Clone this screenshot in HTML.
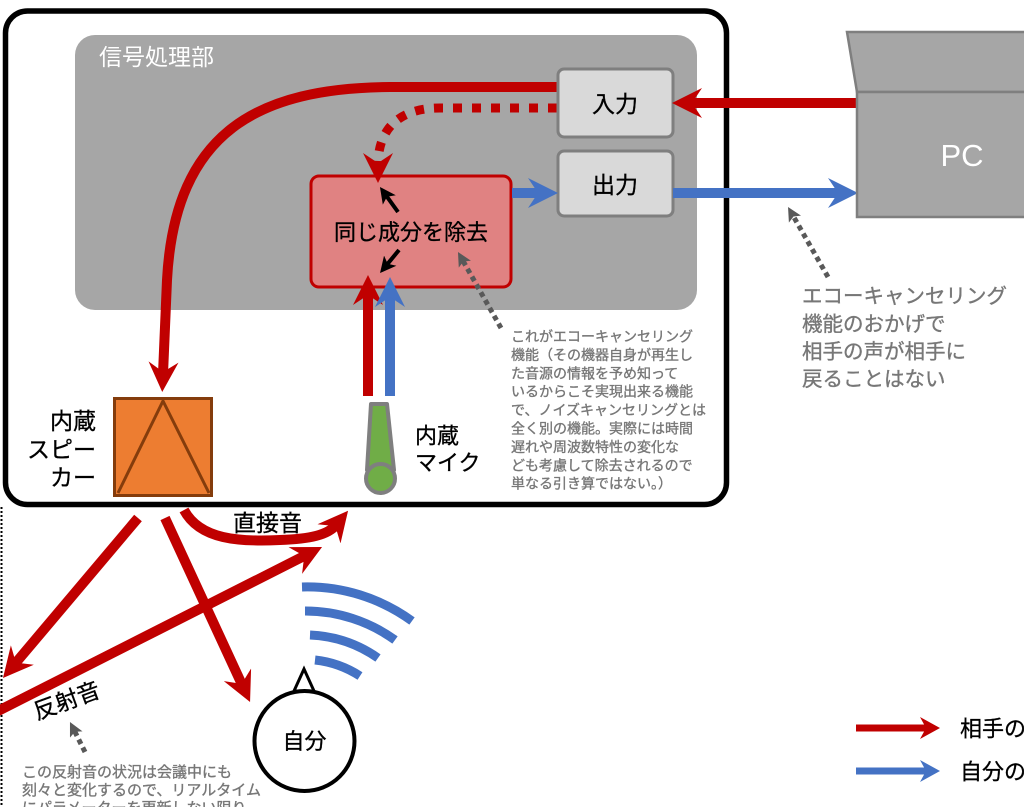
<!DOCTYPE html>
<html><head><meta charset="utf-8">
<style>
html,body{margin:0;padding:0;background:#fff;}
body{width:1024px;height:807px;overflow:hidden;}
svg{display:block;}
text{font-family:"Liberation Sans","Noto Sans CJK JP",sans-serif;}
.ann{fill:#777;stroke:#777;stroke-width:0.35px;}
.blk{stroke:#000;stroke-width:0.3px;}
</style></head><body>
<svg width="1024" height="807" viewBox="0 0 1024 807" xmlns="http://www.w3.org/2000/svg">
<defs>
<marker id="hr" viewBox="0 -15 30 30" refX="12" refY="0" markerWidth="30" markerHeight="30" markerUnits="userSpaceOnUse" orient="auto"><path d="M0,-15L30,0L0,15L10,0z" fill="#c00000"/></marker>
<marker id="hb" viewBox="0 -15 30 30" refX="12" refY="0" markerWidth="30" markerHeight="30" markerUnits="userSpaceOnUse" orient="auto"><path d="M0,-15L30,0L0,15L10,0z" fill="#4472c4"/></marker>
<marker id="hrs" viewBox="0 -11 20 22" refX="8" refY="0" markerWidth="20" markerHeight="22" markerUnits="userSpaceOnUse" orient="auto"><path d="M0,-11L20,0L0,11L6,0z" fill="#c00000"/></marker>
<marker id="hbs" viewBox="0 -11 20 22" refX="8" refY="0" markerWidth="20" markerHeight="22" markerUnits="userSpaceOnUse" orient="auto"><path d="M0,-11L20,0L0,11L6,0z" fill="#4472c4"/></marker>
<marker id="hk" viewBox="0 -8 16 16" refX="6" refY="0" markerWidth="16" markerHeight="16" markerUnits="userSpaceOnUse" orient="auto"><path d="M0,-8L16,0L0,8L4,0z" fill="#000"/></marker>
<marker id="hg" viewBox="0 -7 14 14" refX="5" refY="0" markerWidth="14" markerHeight="14" markerUnits="userSpaceOnUse" orient="auto"><path d="M0,-7L14,0L0,7L3,0z" fill="#595959"/></marker>
</defs>

<!-- left dotted line -->
<line x1="1.5" y1="507" x2="1.5" y2="807" stroke="#000" stroke-width="2" stroke-dasharray="2 2"/>

<!-- outer device box -->
<rect x="5.5" y="11" width="721" height="493.5" rx="22" fill="#fff" stroke="#000" stroke-width="5.5"/>

<!-- signal processing area -->
<rect x="75" y="35" width="622" height="275" rx="20" fill="#a6a6a6"/>
<text x="99" y="65" font-size="23" fill="#fff">信号処理部</text>

<!-- pink box -->
<rect x="311" y="176" width="200" height="111" rx="8" fill="#e08282" stroke="#c00000" stroke-width="3"/>

<!-- big red curve to speaker -->
<path d="M557,87 L390,87 C260,88 175,130 167,280 L163,374" fill="none" stroke="#c00000" stroke-width="10" marker-end="url(#hr)"/>
<!-- dotted red curve -->
<path d="M557,108 L440,108 C400,108 378,128 378,165" fill="none" stroke="#c00000" stroke-width="9" stroke-dasharray="9 10" marker-end="url(#hr)"/>

<!-- input / output boxes -->
<rect x="558" y="69" width="115" height="68" rx="6" fill="#d9d9d9" stroke="#7f7f7f" stroke-width="3"/>
<text class="blk" x="615" y="112" font-size="23" text-anchor="middle" fill="#000">入力</text>
<rect x="558" y="151" width="115" height="65" rx="6" fill="#d9d9d9" stroke="#7f7f7f" stroke-width="3"/>
<text class="blk" x="615" y="193" font-size="23" text-anchor="middle" fill="#000">出力</text>

<text class="blk" x="411" y="240" font-size="22" text-anchor="middle" fill="#000">同じ成分を除去</text>

<!-- arrows in processing area -->
<line x1="857" y1="103" x2="690" y2="103" stroke="#c00000" stroke-width="10" marker-end="url(#hr)"/>
<line x1="673" y1="193" x2="840" y2="193" stroke="#4472c4" stroke-width="10" marker-end="url(#hb)"/>
<line x1="512" y1="193" x2="540" y2="193" stroke="#4472c4" stroke-width="10" marker-end="url(#hb)"/>

<line x1="398" y1="212" x2="385.8" y2="195.1" stroke="#000" stroke-width="4" marker-end="url(#hk)"/>
<line x1="399" y1="250" x2="386.4" y2="265.3" stroke="#000" stroke-width="4" marker-end="url(#hk)"/>

<line x1="368" y1="396" x2="368" y2="293" stroke="#c00000" stroke-width="10" marker-end="url(#hr)"/>
<line x1="390" y1="396" x2="390" y2="295" stroke="#4472c4" stroke-width="10" marker-end="url(#hb)"/>

<!-- gray dotted pointer arrows -->
<line x1="501" y1="328" x2="462.4" y2="259.8" stroke="#595959" stroke-width="5" stroke-dasharray="5 4" marker-end="url(#hg)"/>
<line x1="828" y1="277" x2="792.5" y2="214.8" stroke="#595959" stroke-width="5" stroke-dasharray="5 4" marker-end="url(#hg)"/>
<line x1="85" y1="752" x2="74" y2="730" stroke="#595959" stroke-width="5" stroke-dasharray="5 4" marker-end="url(#hg)"/>

<!-- speaker -->
<rect x="114.5" y="398.5" width="97" height="97" fill="#ed7d31" stroke="#843c0c" stroke-width="3"/>
<path d="M118,493 L163,401 L209,493" fill="none" stroke="#843c0c" stroke-width="3"/>
<text class="blk" font-size="23" text-anchor="end" fill="#000"><tspan x="96" y="429">内蔵</tspan><tspan x="96" y="457.5">スピー</tspan><tspan x="96" y="485.5">カー</tspan></text>

<!-- mic -->
<polygon points="371,404 387,404 394,470 367,470" fill="#70ad47" stroke="#7f7f7f" stroke-width="4" stroke-linejoin="round"/>
<circle cx="380.5" cy="478.5" r="14.5" fill="#70ad47" stroke="#7f7f7f" stroke-width="4"/>
<text class="blk" font-size="22" fill="#000"><tspan x="415" y="443.5">内蔵</tspan><tspan x="415" y="470.5">マイク</tspan></text>

<!-- center annotation -->
<text class="ann" font-size="14">
<tspan x="511" y="341.5">これがエコーキャンセリング</tspan>
<tspan x="511" y="359.9">機能（その機器自身が再生し</tspan>
<tspan x="511" y="378.3">た音源の情報を予め知って</tspan>
<tspan x="511" y="396.7">いるからこそ実現出来る機能</tspan>
<tspan x="511" y="415.1">で、ノイズキャンセリングとは</tspan>
<tspan x="511" y="433.5">全く別の機能。実際には時間</tspan>
<tspan x="511" y="451.9">遅れや周波数特性の変化な</tspan>
<tspan x="511" y="470.3">ども考慮して除去されるので</tspan>
<tspan x="511" y="488.7">単なる引き算ではない。）</tspan>
</text>

<!-- PC -->
<polygon points="847,32 1040,32 1040,92 857,92" fill="#a6a6a6" stroke="#7f7f7f" stroke-width="2.5"/>
<rect x="857" y="92" width="180" height="125" fill="#a6a6a6" stroke="#7f7f7f" stroke-width="2.5"/>
<text x="962" y="166" font-size="31" text-anchor="middle" fill="#fff">PC</text>

<!-- right annotation -->
<text class="ann" font-size="20.5">
<tspan x="802" y="303">エコーキャンセリング</tspan>
<tspan x="802" y="331">機能のおかげで</tspan>
<tspan x="802" y="358.5">相手の声が相手に</tspan>
<tspan x="802" y="386">戻ることはない</tspan>
</text>

<!-- bottom red arrows -->
<line x1="138" y1="518" x2="14.6" y2="664.2" stroke="#c00000" stroke-width="10" marker-end="url(#hr)"/>
<line x1="165" y1="518" x2="242.5" y2="685.7" stroke="#c00000" stroke-width="10" marker-end="url(#hr)"/>
<line x1="-2" y1="711" x2="306" y2="555.1" stroke="#c00000" stroke-width="10" marker-end="url(#hr)"/>
<path d="M184,510 C200,540 240,542 280,540 C310,539 328,535 336.6,524.6" fill="none" stroke="#c00000" stroke-width="10" marker-end="url(#hr)"/>

<text class="blk" x="233" y="531" font-size="23" fill="#000">直接音</text>
<text class="blk" transform="translate(37,720) rotate(-20)" font-size="23" fill="#000">反射音</text>

<!-- blue waves -->
<g fill="none" stroke="#4472c4" stroke-width="9">
<path d="M302,587 A178,178 0 0 1 412,621"/>
<path d="M305,611 A153,153 0 0 1 395,640"/>
<path d="M310,635 A128,128 0 0 1 378,658"/>
<path d="M315,660 A103,103 0 0 1 360,676"/>
</g>

<!-- self -->
<polygon points="304,669 294,691 314,691" fill="#fff" stroke="#000" stroke-width="3" stroke-linejoin="miter"/>
<circle cx="304.5" cy="741" r="50" fill="#fff" stroke="#000" stroke-width="4"/>
<text class="blk" x="304.5" y="749" font-size="22" text-anchor="middle" fill="#000">自分</text>

<!-- bottom-left annotation -->
<text class="ann" font-size="15">
<tspan x="22" y="777">この反射音の状況は会議中にも</tspan>
<tspan x="22" y="795">刻々と変化するので、リアルタイム</tspan>
<tspan x="22" y="813">にパラメーターを更新しない限り</tspan>
</text>

<!-- legend -->
<line x1="856" y1="728" x2="928" y2="728" stroke="#c00000" stroke-width="7" marker-end="url(#hrs)"/>
<line x1="856" y1="771" x2="928" y2="771" stroke="#4472c4" stroke-width="7" marker-end="url(#hbs)"/>
<text class="blk" x="960" y="736.5" font-size="22" fill="#000">相手の声</text>
<text class="blk" x="960" y="779.5" font-size="22" fill="#000">自分の声</text>
</svg>
</body></html>
